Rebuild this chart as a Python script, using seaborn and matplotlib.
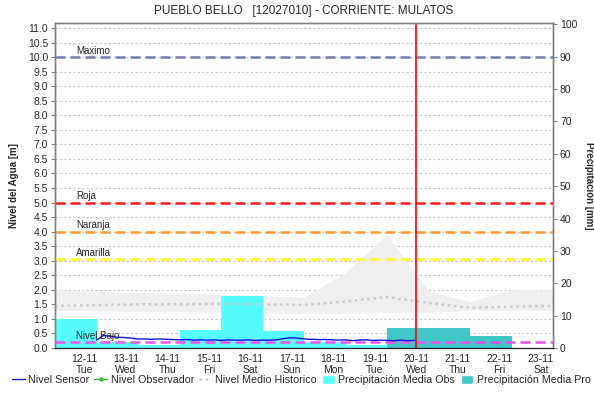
import pandas as pd
import matplotlib
matplotlib.use("Agg")
import matplotlib.pyplot as plt
import matplotlib.dates as mdates
from matplotlib.lines import Line2D
from matplotlib.patches import Patch
import seaborn as sns

# x axis: one tick per day
tick_days = pd.date_range("2024-11-12", "2024-11-23", freq="D")
day_names = ["Tue", "Wed", "Thu", "Fri", "Sat", "Sun", "Mon", "Tue", "Wed", "Thu", "Fri", "Sat"]

# daily precipitation [mm], each bar covers 07:00 -> 07:00
obs_start = pd.date_range("2024-11-11 07:00", periods=8, freq="D")
precip_obs = [8.9, 1.9, 0.8, 5.6, 16.2, 5.4, 2.0, 0.8]
pro_start = pd.date_range("2024-11-19 07:00", periods=3, freq="D")
precip_pro = [6.3, 6.3, 3.7]

# historical level band [m]
hist_time = pd.date_range("2024-11-11 07:00", periods=13, freq="D")
hist_max = [2.0, 1.95, 1.9, 1.88, 1.85, 1.8, 1.75, 2.6, 3.9, 1.95, 1.6, 2.0, 2.0]
hist_min = [1.3, 1.28, 1.25, 1.25, 1.22, 1.2, 1.2, 1.2, 1.22, 1.22, 1.3, 1.3, 1.3]
hist_med = [1.45, 1.47, 1.5, 1.5, 1.52, 1.5, 1.48, 1.6, 1.75, 1.55, 1.38, 1.42, 1.45]

# sensor level [m], every 4 hours
sensor_time = pd.date_range("2024-11-12 07:00", periods=47, freq="4h")
sensor_level = [0.27, 0.43, 0.40, 0.37, 0.36, 0.34, 0.31, 0.31, 0.30, 0.31,
                0.30, 0.29, 0.28, 0.29, 0.27, 0.28, 0.27, 0.28, 0.26, 0.28,
                0.27, 0.27, 0.28, 0.26, 0.27, 0.27, 0.28, 0.32, 0.35, 0.34,
                0.31, 0.30, 0.29, 0.29, 0.28, 0.27, 0.28, 0.25, 0.27, 0.28,
                0.26, 0.27, 0.26, 0.25, 0.27, 0.25, 0.26]

# alert levels [m]
level_names = ["Maximo", "Roja", "Naranja", "Amarilla", "Nivel Bajo"]
level_values = [10.0, 5.0, 4.0, 3.05, 0.2]
level_colors = ["#6E7DB4", "#FF1A1A", "#FF9A2E", "#FFFF1A", "#F050F0"]

now = pd.Timestamp("2024-11-20 00:00")
x_min = pd.Timestamp("2024-11-11 07:00")
x_max = pd.Timestamp("2024-11-23 07:00")

sns.set_style("white")
plt.rcParams["font.family"] = ["Liberation Sans", "DejaVu Sans"]

fig = plt.figure(figsize=(5.94, 4.03), dpi=100)
ax1 = fig.add_axes([0.0926, 0.1365, 0.8384, 0.807])
ax2 = ax1.twinx()   # precipitation
ax0 = ax1.twinx()   # background band + grid
ax0.set_zorder(0)
ax2.set_zorder(1)
ax1.set_zorder(2)
for a in (ax1, ax2):
    a.patch.set_visible(False)

num = mdates.date2num

# background: historical band and grid
ax0.fill_between(num(hist_time), hist_min, hist_max, color="#EFEFEF", linewidth=0)
ax0.set_ylim(0, 11.18)
ax0.set_yticks([i * 0.5 for i in range(23)])
ax0.set_xticks(num(tick_days))
ax0.grid(True, color="#C8C8C8", linestyle=(0, (2, 2)), linewidth=0.8)
ax0.tick_params(left=False, right=False, labelleft=False, labelright=False)
for s in ax0.spines.values():
    s.set_visible(False)

# precipitation bars
ax2.bar(num(obs_start), precip_obs, width=1.0, align="edge", color="#55FFFF", linewidth=0)
ax2.bar(num(pro_start), precip_pro, width=1.0, align="edge", color="#40C8C8", linewidth=0)
ax2.set_ylim(0, 100.5)
ax2.set_yticks(range(0, 101, 10))
ax2.tick_params(axis="y", labelsize=7.5, length=3, color="#808080", pad=2)
ax2.set_ylabel("Precipitación [mm]", rotation=270, fontsize=7, fontweight="bold", labelpad=12)

# lines on the level axis
sns.lineplot(x=num(hist_time), y=hist_med, ax=ax1, color="#C8C8C8",
             linestyle=(0, (1, 1.5)), linewidth=1.8)
for name, val, col in zip(level_names, level_values, level_colors):
    ax1.axhline(val, color=col, linestyle=(0, (4, 2)), linewidth=1.8)
    ax1.text(num(pd.Timestamp("2024-11-11 19:00")), val + 0.04, name,
             fontsize=7, va="bottom", ha="left")
sns.lineplot(x=num(sensor_time), y=sensor_level, ax=ax1, color="#1010E0", linewidth=1)
ax1.axvline(num(now), color="#FF0000", linewidth=1.2)

ax1.set_xlim(num(x_min), num(x_max))
ax1.set_ylim(0, 11.18)
ax1.set_yticks([i * 0.5 for i in range(23)])
ax1.set_yticklabels([f"{i * 0.5:.1f}" for i in range(23)])
ax1.set_xticks(num(tick_days))
ax1.set_xticklabels([f"{d.strftime('%d-%m')}\n{n}" for d, n in zip(tick_days, day_names)])
ax1.tick_params(axis="y", labelsize=7.5, length=3, color="#808080", pad=2)
ax1.tick_params(axis="x", labelsize=7.5, length=0, pad=4)
ax1.set_ylabel("Nivel del Agua [m]", fontsize=7, fontweight="bold", labelpad=6)
ax1.grid(False)

for a in (ax1, ax2):
    for side in ("left", "right", "top"):
        a.spines[side].set_color("#808080")
        a.spines[side].set_linewidth(1)
    a.spines["bottom"].set_linestyle((0, (1, 1)))
    a.spines["bottom"].set_color("#202020")

ax1.set_title("PUEBLO BELLO   [12027010] - CORRIENTE: MULATOS", fontsize=8.5, pad=6)

handles = [
    Line2D([0], [0], color="#2020C8", linewidth=1),
    Line2D([0], [0], color="#33BB33", linewidth=1, marker="o", markersize=2),
    Line2D([0], [0], color="#C8C8C8", linestyle=(0, (1, 1.5)), linewidth=1.8),
    Patch(facecolor="#55FFFF"),
    Patch(facecolor="#40C8C8"),
]
labels = ["Nivel Sensor", "Nivel Observador", "Nivel Medio Historico",
          "Precipitación Media Obs", "Precipitación Media Pro"]
fig.legend(handles, labels, loc="center", bbox_to_anchor=(0.507, 0.057), ncol=5,
           frameon=False, fontsize=7.7, handlelength=1.2, handleheight=1.0,
           handletextpad=0.3, columnspacing=0.5, borderpad=0.1)

fig.savefig("out.png", dpi=100)
